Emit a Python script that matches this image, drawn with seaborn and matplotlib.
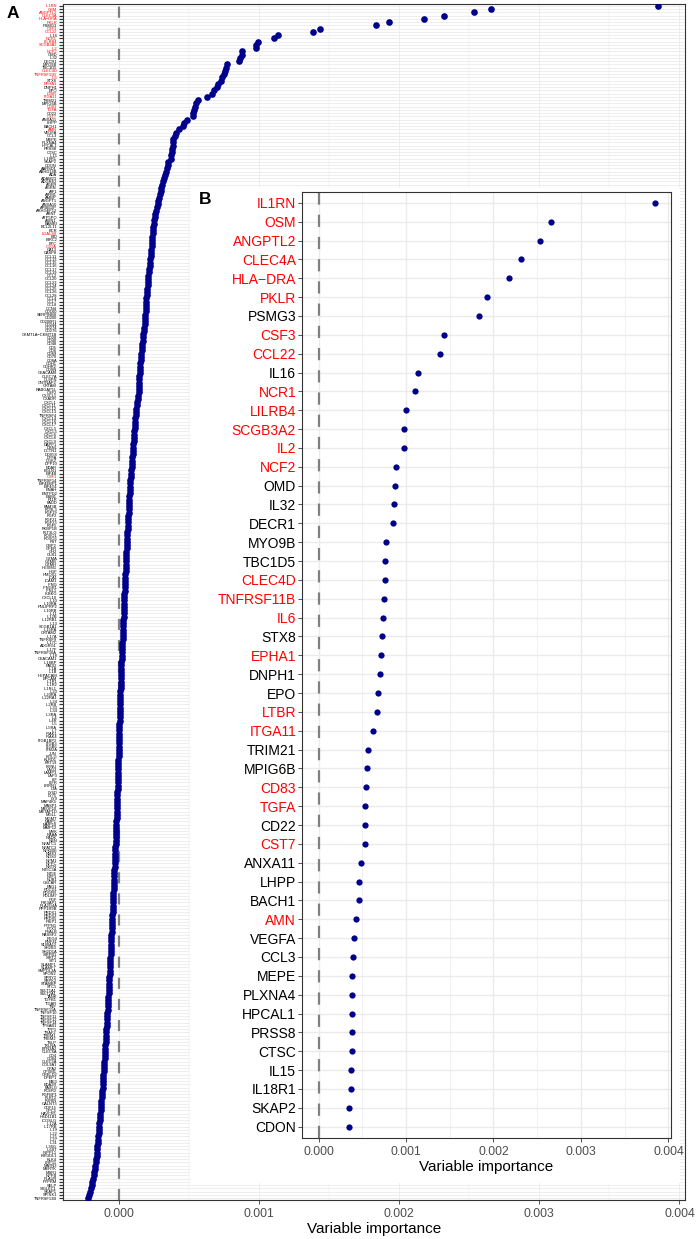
import numpy as np
import pandas as pd
import matplotlib
matplotlib.use('Agg')
import matplotlib.pyplot as plt
import seaborn as sns
from matplotlib.patches import Rectangle
from matplotlib.ticker import MultipleLocator, FormatStrFormatter

# top 50 genes (panel B), values in units of 1e-3
top_genes = ['IL1RN', 'OSM', 'ANGPTL2', 'CLEC4A', 'HLA\u2212DRA', 'PKLR', 'PSMG3', 'CSF3', 'CCL22', 'IL16',
             'NCR1', 'LILRB4', 'SCGB3A2', 'IL2', 'NCF2', 'OMD', 'IL32', 'DECR1', 'MYO9B', 'TBC1D5',
             'CLEC4D', 'TNFRSF11B', 'IL6', 'STX8', 'EPHA1', 'DNPH1', 'EPO', 'LTBR', 'ITGA11', 'TRIM21',
             'MPIG6B', 'CD83', 'TGFA', 'CD22', 'CST7', 'ANXA11', 'LHPP', 'BACH1', 'AMN', 'VEGFA',
             'CCL3', 'MEPE', 'PLXNA4', 'HPCAL1', 'PRSS8', 'CTSC', 'IL15', 'IL18R1', 'SKAP2', 'CDON']
top_imp = [3.844, 2.655, 2.533, 2.320, 2.179, 1.924, 1.836, 1.436, 1.383, 1.135,
           1.105, 0.994, 0.979, 0.979, 0.880, 0.876, 0.865, 0.853, 0.773, 0.762,
           0.758, 0.747, 0.735, 0.728, 0.709, 0.701, 0.678, 0.667, 0.625, 0.564,
           0.552, 0.541, 0.533, 0.526, 0.526, 0.488, 0.465, 0.457, 0.430, 0.404,
           0.396, 0.385, 0.385, 0.385, 0.377, 0.377, 0.370, 0.370, 0.350, 0.347]
top_red = ['IL1RN', 'OSM', 'ANGPTL2', 'CLEC4A', 'HLA\u2212DRA', 'PKLR', 'CSF3', 'CCL22', 'NCR1', 'LILRB4',
           'SCGB3A2', 'IL2', 'NCF2', 'CLEC4D', 'TNFRSF11B', 'IL6', 'EPHA1', 'LTBR', 'ITGA11', 'CD83',
           'TGFA', 'CST7', 'AMN']

# remaining genes (panel A only), ranks 51-368
rest_genes = ['AARSD1', 'ABHD14B', 'ADA', 'ADAM23', 'ADGRE2', 'AGER', 'AGRN', 'AIF1', 'AIFM1', 'AMBP',
              'ANGPT1', 'ANXA10', 'APBB1IP', 'ARHGEF12', 'ARNT', 'ATP5PO', 'AXIN1', 'BAMBI', 'BCL2L11', 'BCR',
              'LGALS9', 'BID', 'BIRC2', 'BTC', 'C1QA', 'CA13', 'CASP8', 'CCL11', 'CCL13', 'CCL15',
              'CCL16', 'CCL17', 'CCL19', 'CCL2', 'CCL20', 'CCL23', 'CCL24', 'CCL25', 'CCL26', 'CCL28',
              'CCL4', 'CCL7', 'CCL8', 'CCN4', 'CD160', 'SERPINB8', 'CD200', 'CD200R1', 'CD244', 'CD274',
              'CD276', 'CKMT1A\u2212CKMT1B', 'CD28', 'CD40', 'CD48', 'CD5', 'CD6', 'CD69', 'CD70', 'CD8A',
              'CDH1', 'CDHR2', 'CDSN', 'CEACAM8', 'CLEC7A', 'CLSPN', 'CNTNAP2', 'CRTAM', 'RABGAP1L', 'CSF2',
              'CX3CL1', 'CXADR', 'CXCL1', 'CXCL11', 'CXCL12', 'CXCL13', 'TNFRSF4', 'CXCL14', 'CXCL16', 'CXCL17',
              'CXCL3', 'CXCL5', 'CXCL6', 'CXCL8', 'CXCL9', 'DAPP1', 'DBNL', 'DCTN1', 'DDX58', 'DFFA',
              'DGKZ', 'DPP10', 'EDAR', 'EGLN1', 'EIF4B', 'CSF1', 'TNFRSF14', 'EIF4EBP1', 'EIF4G1', 'ENAH',
              'ENTPD2', 'ESM1', 'F11R', 'FADD', 'FAM3B', 'FCRL3', 'FGF19', 'FGF2', 'FGF21', 'FGF23',
              'FGF5', 'FKBP1B', 'FLT3LG', 'FOXO1', 'FOXO3', 'FST', 'GBP2', 'GFER', 'GH2', 'GLB1',
              'GZMA', 'GZMB', 'GZMH', 'HEXIM1', 'HGF', 'HMOX2', 'ICA1', 'ICAM1', 'IFNG', 'IFNGR1',
              'IFNL1', 'IKBKG', 'CXCL10', 'IL10', 'IL10RA', 'PNLIPRP2', 'IL10RB', 'IL11', 'IL12B', 'IL12RB1',
              'IL13', 'SCGB1A1', 'IL15RA', 'CRTAM2', 'IL17A', 'TNFRSF9', 'IL17C', 'ADGRG1', 'IL17F', 'TNFRSF10A',
              'IL18', 'CEACAM1', 'IL18BP', 'PADI2', 'IL1A', 'IL1B', 'HEPACAM', 'EPCAM', 'IL1R1', 'IL1R2',
              'IL1RL1', 'IL20', 'IL20RA', 'IL22RA1', 'IL24', 'IL2RB', 'IL33', 'IL34', 'IL3RA', 'IL4',
              'IL4R', 'IL5', 'IL5RA', 'IL7', 'IRAK1', 'IRAK4', 'ITGB1BP2', 'ITGB3', 'ITGB6', 'ITM2A',
              'JUN', 'KITLG', 'KLRD1', 'KRT19', 'KYNU', 'LAG3', 'LAMP3', 'LAP3', 'LIF', 'LIFR',
              'LRRN1', 'LTA', 'LY6D', 'LY75', 'LY9', 'MAP4K5', 'MASP1', 'MEGF10', 'METAP1D', 'MGLL',
              'MGMT', 'MMP1', 'MMP10', 'MMP12', 'MVK', 'NAAA', 'NADK', 'NBN', 'NFATC1', 'NFATC3',
              'NFKBIE', 'NME3', 'NOS3', 'NPM1', 'NPPC', 'NRTN', 'NT5C3A', 'NT5E', 'NTF3', 'NUB1',
              'OSCAR', 'PAG1', 'PDCD1', 'PDGFB', 'PDLIM7', 'PGF', 'PIK3AP1', 'PLA2G4A', 'PPP1R9B', 'PRDX1',
              'PRDX3', 'PRDX5', 'PSIP1', 'PTPN1', 'PTX3', 'PVALB', 'RASSF2', 'REG4', 'RNF41', 'S100A12',
              'SH2B3', 'SH2D1A', 'SIRPB1', 'SIRT2', 'SIT1', 'SLAMF1', 'SLAMF7', 'SMPDL3A', 'SPON2', 'SPRY2',
              'SRPK2', 'STAMBP', 'STC1', 'SULT1A1', 'SULT2A1', 'TANK', 'TGFB1', 'TIGAR', 'TNF', 'TNFRSF11A',
              'TNFSF10', 'TNFSF11', 'TNFSF12', 'TNFSF14', 'TPSAB1', 'TPP1', 'TRAF2', 'TREM1', 'TREM2', 'TSLP',
              'TXLNA', 'BTN3A2', 'CLEC6A', 'CD4', 'CD84', 'CLEC5A', 'COL9A1', 'CPA2', 'CPXM1', 'CRELD2',
              'DPEP1', 'EBI3', 'EDA2R', 'FASLG', 'FCER2', 'FGFBP1', 'FLRT2', 'FURIN', 'GALNT3', 'GDF15',
              'GPC5', 'HAVCR1', 'HSD11B1', 'ICOSLG', 'IL12A', 'IL17RB', 'IL19', 'IL22', 'IL25', 'IL27',
              'IL31', 'IL36G', 'IL6ST', 'INPPL1', 'KIR3DL1', 'KLK4', 'LRP11', 'MATN3', 'MERTK', 'MSR1',
              'NPPB', 'PLAUR', 'PTPRM', 'SELP', 'SIGLEC1', 'SKAP1', 'SPINK1', 'TNFRSF13B']
rest_imp = [0.340, 0.335, 0.330, 0.322, 0.315, 0.306, 0.300, 0.296, 0.290, 0.285,
            0.281, 0.277, 0.272, 0.266, 0.260, 0.255, 0.250, 0.247, 0.244, 0.242,
            0.240, 0.238, 0.236, 0.234, 0.232, 0.230, 0.228, 0.226, 0.224, 0.221,
            0.218, 0.215, 0.212, 0.210, 0.208, 0.206, 0.204, 0.202, 0.200, 0.198,
            0.196, 0.194, 0.192, 0.190, 0.189, 0.187, 0.186, 0.184, 0.182, 0.180,
            0.177, 0.174, 0.171, 0.168, 0.165, 0.163, 0.161, 0.159, 0.157, 0.155,
            0.153, 0.151, 0.149, 0.147, 0.146, 0.144, 0.143, 0.142, 0.141, 0.139,
            0.136, 0.133, 0.130, 0.127, 0.124, 0.121, 0.119, 0.117, 0.115, 0.113,
            0.111, 0.109, 0.107, 0.105, 0.104, 0.102, 0.101, 0.099, 0.097, 0.095,
            0.093, 0.091, 0.089, 0.087, 0.085, 0.083, 0.081, 0.080, 0.078, 0.077,
            0.075, 0.074, 0.072, 0.071, 0.070, 0.069, 0.068, 0.066, 0.065, 0.063,
            0.062, 0.061, 0.059, 0.058, 0.057, 0.056, 0.055, 0.054, 0.053, 0.052,
            0.051, 0.050, 0.049, 0.048, 0.047, 0.046, 0.045, 0.044, 0.042, 0.041,
            0.040, 0.039, 0.038, 0.037, 0.036, 0.035, 0.034, 0.033, 0.032, 0.031,
            0.030, 0.029, 0.028, 0.027, 0.026, 0.025, 0.024, 0.023, 0.021, 0.020,
            0.019, 0.018, 0.017, 0.016, 0.015, 0.015, 0.014, 0.013, 0.012, 0.011,
            0.011, 0.010, 0.009, 0.009, 0.008, 0.007, 0.006, 0.006, 0.005, 0.004,
            0.004, 0.003, 0.003, 0.002, 0.001, 0.001, 0.000, -0.001, -0.001, -0.002,
            -0.002, -0.003, -0.004, -0.004, -0.005, -0.005, -0.006, -0.006, -0.007, -0.008,
            -0.009, -0.010, -0.011, -0.012, -0.013, -0.014, -0.015, -0.016, -0.016, -0.017,
            -0.018, -0.019, -0.020, -0.021, -0.021, -0.022, -0.023, -0.024, -0.025, -0.026,
            -0.027, -0.028, -0.029, -0.030, -0.031, -0.032, -0.033, -0.034, -0.035, -0.036,
            -0.037, -0.038, -0.039, -0.040, -0.041, -0.042, -0.043, -0.044, -0.045, -0.046,
            -0.047, -0.048, -0.049, -0.050, -0.051, -0.053, -0.054, -0.055, -0.056, -0.057,
            -0.058, -0.059, -0.060, -0.062, -0.063, -0.064, -0.065, -0.067, -0.068, -0.069,
            -0.070, -0.071, -0.073, -0.074, -0.075, -0.077, -0.078, -0.079, -0.081, -0.082,
            -0.083, -0.084, -0.086, -0.087, -0.088, -0.090, -0.091, -0.093, -0.094, -0.096,
            -0.097, -0.099, -0.100, -0.102, -0.103, -0.105, -0.106, -0.108, -0.110, -0.111,
            -0.113, -0.115, -0.116, -0.118, -0.120, -0.122, -0.124, -0.126, -0.128, -0.130,
            -0.132, -0.134, -0.136, -0.138, -0.140, -0.142, -0.144, -0.146, -0.148, -0.150,
            -0.152, -0.154, -0.156, -0.158, -0.160, -0.163, -0.166, -0.169, -0.172, -0.176,
            -0.180, -0.185, -0.190, -0.196, -0.200, -0.205, -0.212, -0.220]
rest_red = ['LGALS9', 'C1QA', 'CSF1']

all_genes = top_genes + rest_genes
all_imp = top_imp + rest_imp
red_set = set(top_red + rest_red)

dfA = pd.DataFrame({'gene': all_genes, 'imp': np.array(all_imp) / 1000})
dfB = pd.DataFrame({'gene': top_genes, 'imp': np.array(top_imp) / 1000})

sns.set_theme(style='white')
plt.rcParams['font.family'] = ['Liberation Sans', 'DejaVu Sans']
plt.rcParams['text.color'] = 'black'
plt.rcParams['axes.labelcolor'] = 'black'

W, H = 696, 1239
fig = plt.figure(figsize=(W / 100, H / 100), dpi=100)

def px_axes(l, t, r, b):
    return [l / W, (H - b) / H, (r - l) / W, (b - t) / H]

dot_color = '#00008B'
grid_c = '#EBEBEB'


def style_axes(ax, genes, tick_fs, tick_len, tick_w, grid_lw, dash):
    n = len(genes)
    ax.set_yticks(range(n))
    ax.set_yticklabels(genes, fontsize=tick_fs)
    for lbl in ax.get_yticklabels():
        lbl.set_color('#FF0000' if lbl.get_text() in red_set else 'black')
    ax.set_ylim(n - 1 + 0.6, -0.6)
    ax.xaxis.set_major_locator(MultipleLocator(0.001))
    ax.xaxis.set_minor_locator(MultipleLocator(0.0005))
    ax.xaxis.set_major_formatter(FormatStrFormatter('%.3f'))
    ax.grid(True, which='major', axis='both', color=grid_c, lw=grid_lw)
    ax.grid(True, which='minor', axis='x', color=grid_c, lw=grid_lw * 0.5)
    ax.set_axisbelow(True)
    ax.tick_params(axis='y', which='major', length=tick_len, width=tick_w, color='#333333', pad=1.5)
    ax.tick_params(axis='x', which='major', length=2.8, width=0.6, color='#333333',
                   labelsize=8.8, labelcolor='#4D4D4D', pad=3)
    ax.tick_params(which='minor', length=0)
    ax.tick_params(left=True, bottom=True)
    for s in ax.spines.values():
        s.set_color('#333333')
        s.set_linewidth(0.8)
    ax.axvline(0, color='#808080', lw=1.6, ls=(0, dash), zorder=1.5)
    ax.set_ylabel('')
    ax.set_xlabel('Variable importance', fontsize=11, labelpad=1.5, color='black')


# panel A: all genes
axA = fig.add_axes(px_axes(63, 4, 685, 1200))
sns.stripplot(data=dfA, x='imp', y='gene', ax=axA, jitter=False, color=dot_color,
              size=4.8, linewidth=0, zorder=3)
axA.set_xlim(-0.0004, 0.00404)
style_axes(axA, all_genes, 2.9, 2.8, 0.9, 0.6, (5.0, 4.5))

# white inset background
fig.add_artist(Rectangle((190 / W, (H - 1183) / H), (680 - 190) / W, (1183 - 188) / H,
                         transform=fig.transFigure, facecolor='white', edgecolor='none', zorder=1))

# panel B: top 50
axB = fig.add_axes(px_axes(302, 191.5, 671, 1138))
axB.set_zorder(2)
sns.stripplot(data=dfB, x='imp', y='gene', ax=axB, jitter=False, color=dot_color,
              size=4.5, linewidth=0, zorder=3)
axB.set_xlim(-0.00019, 0.00403)
style_axes(axB, top_genes, 10, 2.8, 0.6, 1.0, (5.5, 4.5))

fig.text(13 / W, 1 - 13 / H, 'A', fontsize=12.5, fontweight='bold', ha='center', va='center', color='black')
fig.text(205 / W, 1 - 199 / H, 'B', fontsize=12.5, fontweight='bold', ha='center', va='center',
         color='black', zorder=3)

fig.savefig('out.png', dpi=100)
